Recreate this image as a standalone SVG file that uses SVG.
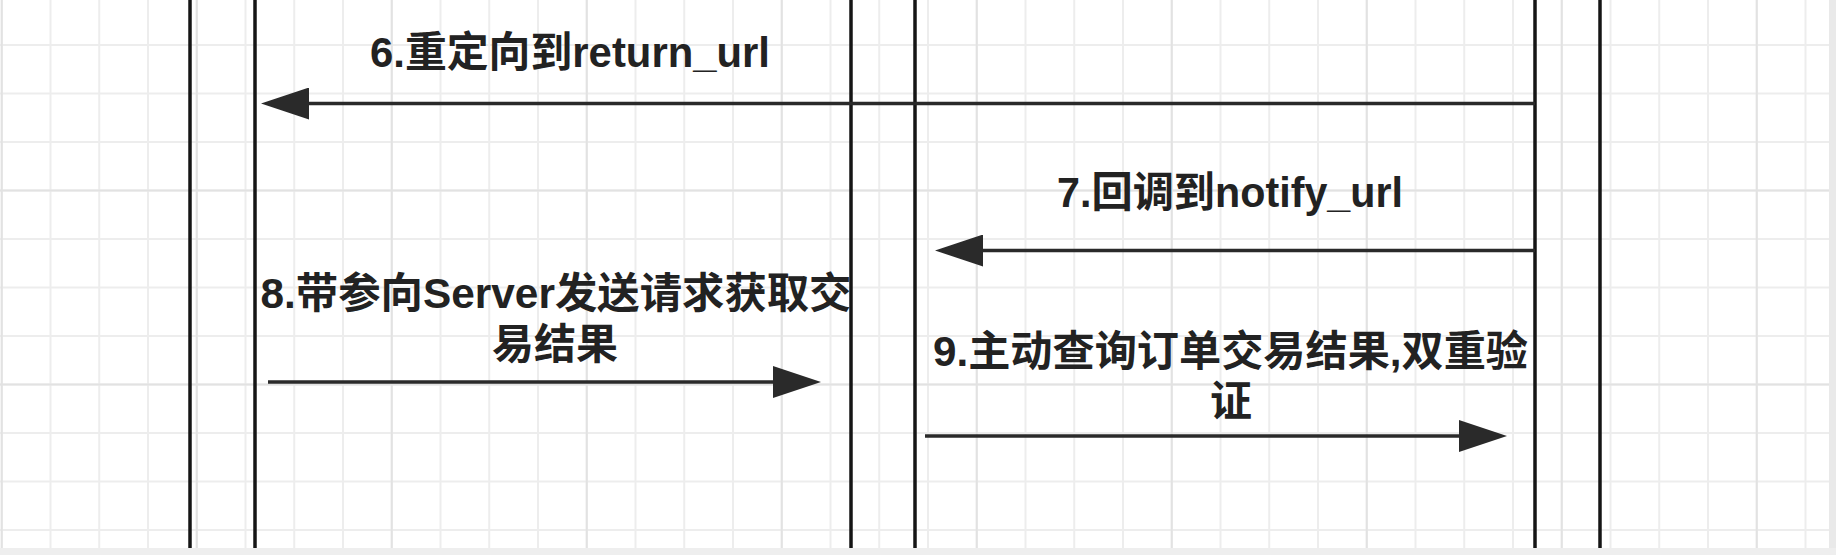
<svg xmlns="http://www.w3.org/2000/svg" width="1836" height="555" viewBox="0 0 1836 555">
<style>
.life{stroke:#151515;stroke-width:3.5;fill:none}
.msg{stroke:#2a2a2a;stroke-width:3.5;fill:none}
.lbl{font-family:"Liberation Sans","Noto Sans CJK SC",sans-serif;font-weight:bold;font-size:42px;fill:#222;text-anchor:middle}
</style>
<defs>
<pattern id="minor" patternUnits="userSpaceOnUse" x="49.5" y="44" width="48.75" height="48.5">
<path d="M1 0V48.5M0 1H48.75" stroke="#ededed" stroke-width="2" fill="none"/>
</pattern>
<pattern id="major" patternUnits="userSpaceOnUse" x="195.75" y="189.5" width="195" height="194">
<path d="M1 0V194M0 1H195" stroke="#e2e2e2" stroke-width="2" fill="none"/>
</pattern>
<marker id="head" markerUnits="userSpaceOnUse" markerWidth="48" markerHeight="32" refX="38" refY="16" orient="auto">
<path d="M0,0 L48,16 L0,32 Z" fill="#2a2a2a"/>
</marker>
</defs>
<rect width="1836" height="555" fill="#ffffff"/>
<rect width="1836" height="555" fill="url(#minor)"/>
<rect width="1836" height="555" fill="url(#major)"/>
<rect x="1829" y="0" width="7" height="555" fill="#e9e9e9"/>
<rect x="0" y="548" width="1836" height="7" fill="#eeeeee"/>

<g id="lifeline-a1"><line class="life" x1="190" y1="0" x2="190" y2="548"/></g>
<g id="lifeline-a2"><line class="life" x1="255" y1="0" x2="255" y2="548"/></g>
<g id="lifeline-b1"><line class="life" x1="851" y1="0" x2="851" y2="548"/></g>
<g id="lifeline-b2"><line class="life" x1="915" y1="0" x2="915" y2="548"/></g>
<g id="lifeline-c1"><line class="life" x1="1535" y1="0" x2="1535" y2="548"/></g>
<g id="lifeline-c2"><line class="life" x1="1600" y1="0" x2="1600" y2="548"/></g>

<g id="connectors">
<line id="msg6" class="msg" x1="1535" y1="103.5" x2="271" y2="103.5" marker-end="url(#head)"/>
<line id="msg7" class="msg" x1="1535" y1="250.5" x2="945" y2="250.5" marker-end="url(#head)"/>
<line id="msg8" class="msg" x1="268" y1="382" x2="811" y2="382" marker-end="url(#head)"/>
<line id="msg9" class="msg" x1="925" y1="436" x2="1497" y2="436" marker-end="url(#head)"/>
</g>

<g id="labels">
<text id="label6" class="lbl" x="570" y="67" textLength="400" lengthAdjust="spacingAndGlyphs">6.重定向到return_url</text>
<text id="label7" class="lbl" x="1230" y="207" textLength="346" lengthAdjust="spacingAndGlyphs">7.回调到notify_url</text>
<g id="label8">
<text class="lbl" x="556" y="308" textLength="591" lengthAdjust="spacingAndGlyphs">8.带参向Server发送请求获取交</text>
<text class="lbl" x="555" y="359">易结果</text>
</g>
<g id="label9">
<text class="lbl" x="1230.5" y="366" textLength="595" lengthAdjust="spacingAndGlyphs">9.主动查询订单交易结果,双重验</text>
<text class="lbl" x="1231" y="416">证</text>
</g>
</g>
</svg>
